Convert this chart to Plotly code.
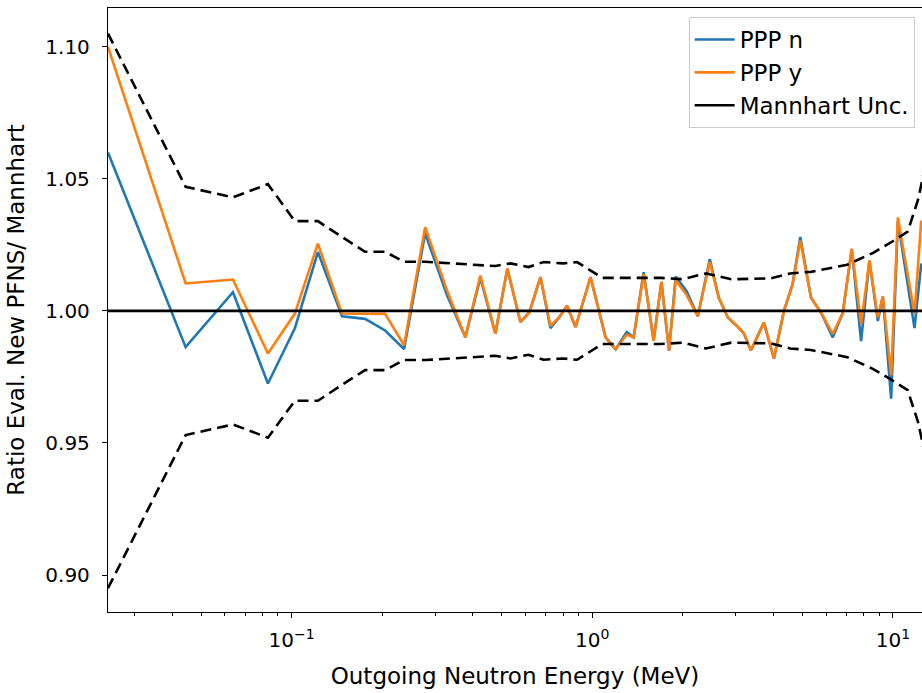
import numpy as np
import plotly.graph_objects as go

# Outgoing neutron energy grid (MeV) for the ratio curves
energy = [0.0245, 0.0444, 0.0638, 0.0834, 0.1025, 0.1223, 0.1471, 0.1755, 0.2046, 0.2366,
          0.2781, 0.3286, 0.3782, 0.4243, 0.4761, 0.5219, 0.5767, 0.618, 0.6725, 0.7261,
          0.778, 0.8241, 0.8797, 0.987, 1.1074, 1.1957, 1.3014, 1.3731, 1.4825, 1.6005,
          1.6982, 1.8003, 1.8949, 2.06, 2.2438, 2.4602, 2.6362, 2.8247, 3.05, 3.1944,
          3.3706, 3.7237, 4.0213, 4.3427, 4.6418, 4.92, 5.3418, 5.7673, 6.3092, 6.812,
          7.2977, 7.8397, 8.3555, 8.913, 9.2605, 9.8697, 10.391, 11.802, 12.425, 13.5]

# Ratio of evaluated PFNS to Mannhart, without (n) and with (y) the PPP option
ppp_n = [1.060, 0.9863, 1.0071, 0.9725, 0.9934, 1.0223, 0.998, 0.997, 0.9926, 0.9856,
         1.0294, 1.006, 0.990, 1.0125, 0.9914, 1.016, 0.9958, 0.9995, 1.0128, 0.9935,
         0.9977, 1.002, 0.9939, 1.0128, 0.990, 0.9855, 0.992, 0.990, 1.0147, 0.9887,
         1.011, 0.985, 1.013, 1.0075, 0.998, 1.0196, 1.005, 0.9975, 0.994, 0.9915,
         0.985, 0.9956, 0.982, 1.000, 1.0102, 1.028, 1.005, 0.9994, 0.990, 0.9992,
         1.0235, 0.9886, 1.019, 0.9962, 1.0055, 0.9668, 1.034, 0.9935, 1.0178, 1.010]

ppp_y = [1.100, 1.0104, 1.0119, 0.9839, 0.999, 1.0255, 0.999, 0.999, 0.9989, 0.987,
         1.0317, 1.0078, 0.990, 1.0134, 0.9914, 1.016, 0.9958, 0.9995, 1.0128, 0.9943,
         0.9977, 1.002, 0.9939, 1.0128, 0.990, 0.9855, 0.991, 0.990, 1.014, 0.9887,
         1.011, 0.985, 1.0116, 1.006, 0.998, 1.0185, 1.005, 0.9975, 0.994, 0.9915,
         0.985, 0.9956, 0.982, 1.000, 1.0102, 1.0267, 1.005, 0.9994, 0.9913, 0.9992,
         1.0235, 0.995, 1.019, 0.9975, 1.0055, 0.9756, 1.0354, 0.9988, 1.0341, 1.020]

# Relative uncertainty of the Mannhart evaluation
unc_energy = [0.0245, 0.0444, 0.0638, 0.0834, 0.1025, 0.1223, 0.147, 0.1755, 0.2046, 0.2366,
              0.2781, 0.343, 0.476, 0.534, 0.613, 0.689, 0.80, 0.89, 1.08, 1.41,
              1.69, 2.0, 2.39, 2.9, 3.92, 4.55, 5.34, 7.05, 8.6, 9.87,
              11.2, 12.12, 12.5, 13.5]
unc = [0.105, 0.047, 0.043, 0.048, 0.034, 0.034, 0.028, 0.0224, 0.0224, 0.0186,
       0.0186, 0.018, 0.017, 0.018, 0.0166, 0.0185, 0.018, 0.0185, 0.0125, 0.0125,
       0.0125, 0.012, 0.0142, 0.012, 0.0123, 0.0142, 0.0148, 0.0175, 0.022, 0.026,
       0.030, 0.042, 0.049, 0.07]

x_range = [0.0245, 12.5]
y_range = [0.886, 1.1147]
y_ticks = [0.90, 0.95, 1.00, 1.05, 1.10]
x_ticks = [0.1, 1, 10]
x_ticktext = ["10<sup>\u22121</sup>", "10<sup>0</sup>", "10<sup>1</sup>"]
x_minor = [m * 10.0 ** d for d in (-2, -1, 0, 1) for m in range(2, 10)]

BLUE = "#1f77b4"
ORANGE = "#ff7f0e"
FONT = "DejaVu Sans"
TICK_FS = 20
LABEL_FS = 23

unc_arr = np.array(unc)
upper = 1 + unc_arr
lower = 1 - unc_arr

fig = go.Figure()
fig.add_trace(go.Scatter(x=energy, y=ppp_n, mode="lines", name="PPP n",
                         line=dict(color=BLUE, width=2.6)))
fig.add_trace(go.Scatter(x=energy, y=ppp_y, mode="lines", name="PPP y",
                         line=dict(color=ORANGE, width=2.6)))
fig.add_trace(go.Scatter(x=unc_energy, y=upper, mode="lines", showlegend=False,
                         line=dict(color="black", width=2.6, dash="11px,6px")))
fig.add_trace(go.Scatter(x=unc_energy, y=lower, mode="lines", showlegend=False,
                         line=dict(color="black", width=2.6, dash="11px,6px")))
fig.add_trace(go.Scatter(x=[0.01, 100], y=[1.0, 1.0], mode="lines", name="Mannhart Unc.",
                         line=dict(color="black", width=2.6)))

fig.update_layout(
    width=922, height=693,
    margin=dict(l=108, r=0, t=8, b=81),
    paper_bgcolor="white", plot_bgcolor="white",
    font=dict(family=FONT, size=TICK_FS, color="black"),
    showlegend=True,
    legend=dict(x=0.991, y=0.985, xanchor="right", yanchor="top",
                bgcolor="rgba(255,255,255,0.8)", bordercolor="#cccccc", borderwidth=1,
                font=dict(family=FONT, size=LABEL_FS), tracegroupgap=0, itemwidth=40),
    xaxis=dict(type="log", range=[np.log10(x_range[0]), np.log10(x_range[1])],
               tickmode="array", tickvals=x_ticks, ticktext=x_ticktext,
               ticks="outside", ticklen=5, tickwidth=1.2, tickcolor="black",
               ticklabelstandoff=5,
               showline=True, linecolor="black", linewidth=1.3, mirror=True,
               showgrid=False, zeroline=False,
               minor=dict(tickmode="array", tickvals=x_minor, ticks="outside",
                          ticklen=3, tickwidth=1, tickcolor="black", showgrid=False),
               title=dict(text="Outgoing Neutron Energy (MeV)", standoff=16,
                          font=dict(family=FONT, size=LABEL_FS))),
    yaxis=dict(range=y_range, tickmode="array", tickvals=y_ticks, tickformat=".2f",
               ticks="outside", ticklen=5, tickwidth=1.2, tickcolor="black",
               ticklabelstandoff=8,
               showline=True, linecolor="black", linewidth=1.3, mirror=False,
               showgrid=False, zeroline=False,
               title=dict(text="Ratio Eval. New PFNS/ Mannhart", standoff=14,
                          font=dict(family=FONT, size=LABEL_FS))),
)

fig.write_html("out.html")
